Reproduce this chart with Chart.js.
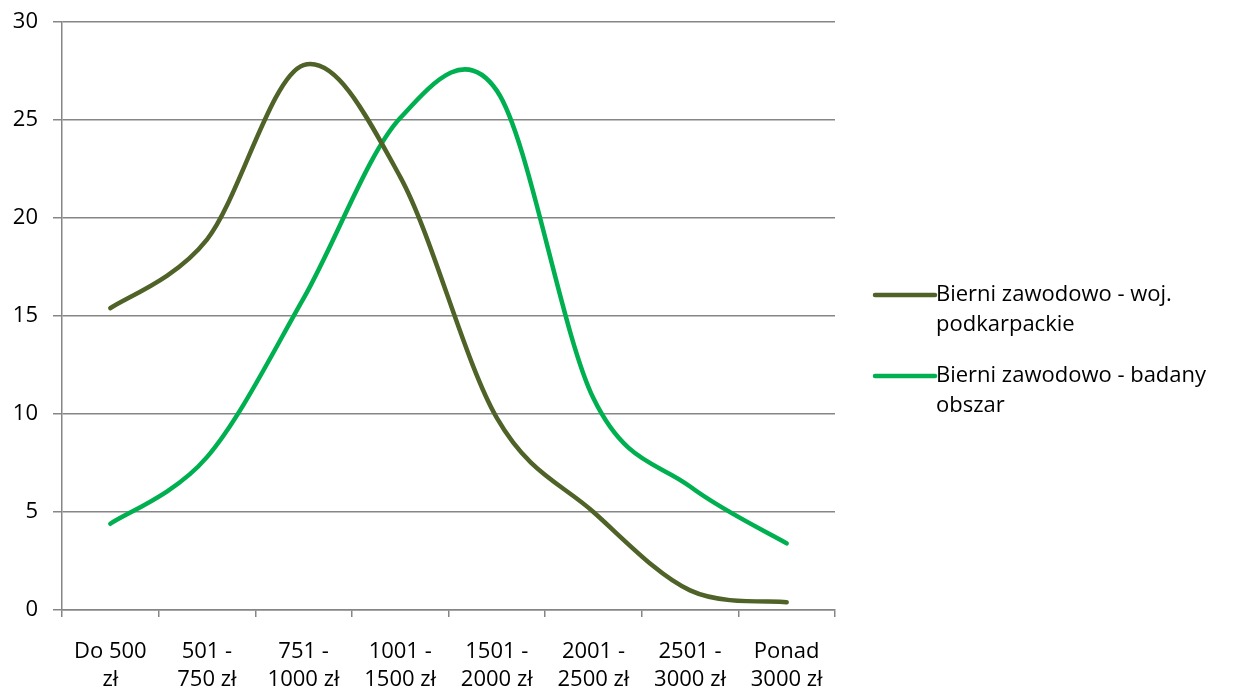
<!DOCTYPE html>
<html>
<head>
<meta charset="utf-8">
<script src="https://cdn.jsdelivr.net/npm/chart.js@4/dist/chart.umd.min.js"></script>
<style>
  html, body { margin: 0; padding: 0; background: #ffffff; }
  canvas { display: block; }
</style>
</head>
<body>
<canvas id="c" width="1233" height="688"></canvas>
<script>
const categories = [
  ["Do 500", "zł"],
  ["501 -", "750 zł"],
  ["751 -", "1000 zł"],
  ["1001 -", "1500 zł"],
  ["1501 -", "2000 zł"],
  ["2001 -", "2500 zł"],
  ["2501 -", "3000 zł"],
  ["Ponad", "3000 zł"]
];
const seriesNames = ["Bierni zawodowo - woj. podkarpackie", "Bierni zawodowo - badany obszar"];
const podkarpackie = [15.4, 18.9, 27.8, 22.1, 9.8, 5.0, 1.0, 0.4];
const badanyObszar = [4.4, 7.8, 15.9, 25.1, 26.5, 10.8, 6.3, 3.4];
const yTicks = [0, 5, 10, 15, 20, 25, 30];

const FONT = "'Open Sans', 'Liberation Sans', sans-serif";
const FSIZE = 22;
const GRID = '#868686';

// Excel-like smoothing: uniform Catmull-Rom control points from the scaled points
const smoothPlugin = {
  id: 'excelSmooth',
  beforeDatasetDraw(chart, args) {
    const meta = args.meta;
    const line = meta.dataset;
    if (!line) return;
    line.updateControlPoints(chart.chartArea, 'x');
    const pts = meta.data;
    const n = pts.length;
    for (let i = 0; i < n; i++) {
      const p = pts[i];
      const prev = pts[Math.max(0, i - 1)];
      const next = pts[Math.min(n - 1, i + 1)];
      const dx = (next.x - prev.x) / 6;
      const dy = (next.y - prev.y) / 6;
      p.cp1x = p.x - dx; p.cp1y = p.y - dy;
      p.cp2x = p.x + dx; p.cp2y = p.y + dy;
    }
    line._path = undefined;
  }
};

const legendPlugin = {
  id: 'sideLegend',
  afterDraw(chart) {
    const ctx = chart.ctx;
    ctx.save();
    ctx.font = FSIZE + 'px ' + FONT;
    ctx.textBaseline = 'middle';
    ctx.fillStyle = '#000000';
    const x0 = 875, lineLen = 60, textX = 936, maxW = 290;
    const startY = [295, 376];
    chart.data.datasets.forEach((ds, i) => {
      const words = ds.label.split(' ');
      const lines = [];
      let cur = '';
      words.forEach(w => {
        const t = cur ? cur + ' ' + w : w;
        if (ctx.measureText(t).width > maxW && cur) { lines.push(cur); cur = w; }
        else cur = t;
      });
      if (cur) lines.push(cur);
      const y = startY[i];
      ctx.strokeStyle = ds.borderColor;
      ctx.lineWidth = 4.5;
      ctx.lineCap = 'round';
      ctx.beginPath();
      ctx.moveTo(x0, y);
      ctx.lineTo(x0 + lineLen, y);
      ctx.stroke();
      lines.forEach((ln, k) => {
        ctx.fillText(ln, textX, y + k * 30);
      });
    });
    ctx.restore();
  }
};

new Chart(document.getElementById('c'), {
  type: 'line',
  data: {
    labels: categories,
    datasets: [
      {
        label: seriesNames[0],
        data: podkarpackie,
        borderColor: '#4F6228',
        backgroundColor: '#4F6228',
        borderWidth: 4.5,
        pointRadius: 0,
        tension: 0.35,
        borderCapStyle: 'round',
        fill: false
      },
      {
        label: seriesNames[1],
        data: badanyObszar,
        borderColor: '#00B050',
        backgroundColor: '#00B050',
        borderWidth: 4.5,
        pointRadius: 0,
        tension: 0.35,
        borderCapStyle: 'round',
        fill: false
      }
    ]
  },
  options: {
    responsive: false,
    animation: false,
    layout: { padding: { left: 0, right: 398, top: 22, bottom: 0 } },
    plugins: {
      legend: { display: false },
      tooltip: { enabled: false }
    },
    scales: {
      x: {
        type: 'category',
        offset: true,
        grid: {
          offset: true,
          drawOnChartArea: false,
          drawTicks: true,
          tickLength: 7,
          color: GRID,
          lineWidth: 1.5
        },
        border: { color: GRID, width: 1.5 },
        ticks: {
          color: '#000000',
          font: { family: FONT, size: FSIZE, lineHeight: 1.3 },
          padding: 20,
          maxRotation: 0,
          autoSkip: false
        },
        afterFit(scale) {
          scale.height = 78;
          scale.paddingLeft = 0; scale.paddingRight = 0;
        }
      },
      y: {
        min: 0,
        max: 30,
        afterBuildTicks(scale) { scale.ticks = yTicks.map(v => ({ value: v })); },
        grid: {
          color: GRID,
          lineWidth: 1.5,
          drawTicks: true,
          tickLength: 9
        },
        border: { color: GRID, width: 1.5 },
        ticks: {
          color: '#000000',
          font: { family: FONT, size: FSIZE },
          padding: 15
        },
        afterFit(scale) {
          scale.width = 62;
          scale.paddingTop = 0; scale.paddingBottom = 0;
        }
      }
    }
  },
  plugins: [smoothPlugin, legendPlugin]
});
</script>
</body>
</html>
